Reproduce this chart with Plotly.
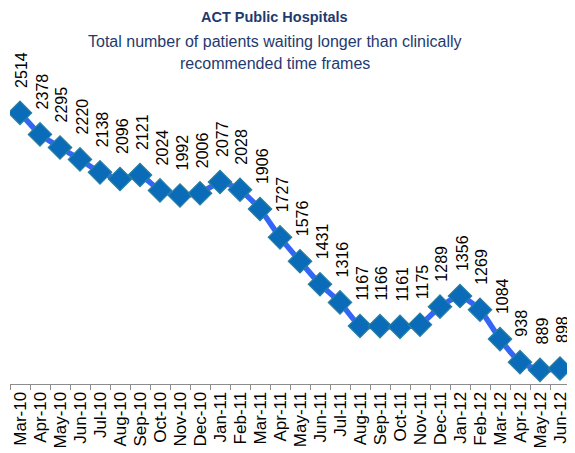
import plotly.graph_objects as go

months = ["Mar-10", "Apr-10", "May-10", "Jun-10", "Jul-10", "Aug-10", "Sep-10",
          "Oct-10", "Nov-10", "Dec-10", "Jan-11", "Feb-11", "Mar-11", "Apr-11",
          "May-11", "Jun-11", "Jul-11", "Aug-11", "Sep-11", "Oct-11", "Nov-11",
          "Dec-11", "Jan-12", "Feb-12", "Mar-12", "Apr-12", "May-12", "Jun-12"]
patients = [2514, 2378, 2295, 2220, 2138, 2096, 2121, 2024, 1992, 2006, 2077,
            2028, 1906, 1727, 1576, 1431, 1316, 1167, 1166, 1161, 1175, 1289,
            1356, 1269, 1084, 938, 889, 898]

title_text = "ACT Public Hospitals"
subtitle_lines = ["Total number of patients waiting longer than clinically",
                  "recommended time frames"]

FONT = "Liberation Sans, Arial, sans-serif"
NAVY = "#1F3A6E"

fig = go.Figure()
fig.add_trace(go.Scatter(
    x=months, y=patients, mode="lines+markers",
    line=dict(color="#3366F5", width=5.5, shape="spline", smoothing=0.5),
    marker=dict(symbol="diamond", size=18, color="#0A6CB8",
                line=dict(color="#2A7F9E", width=1.2)),
    hoverinfo="x+y", showlegend=False,
))

annotations = []
for m, v in zip(months, patients):
    annotations.append(dict(
        x=m, y=v, xref="x", yref="y", text=str(v), showarrow=False,
        textangle=-90, xanchor="center", yanchor="bottom",
        xshift=2, yshift=23,
        font=dict(family=FONT, size=16, color="#000000"),
    ))

annotations.append(dict(
    x=0.473, y=1.0546, xref="paper", yref="paper", showarrow=False,
    text="<b>" + title_text + "</b>", xanchor="center", yanchor="middle",
    font=dict(family=FONT, size=14.5, color=NAVY),
))
for i, line in enumerate(subtitle_lines):
    annotations.append(dict(
        x=0.473, y=[0.9856, 0.922][i], xref="paper", yref="paper",
        showarrow=False, text=line, xanchor="center", yanchor="middle",
        font=dict(family=FONT, size=16, color=NAVY),
    ))

# The page body has an 8px margin, so the figure is sized and margined to
# keep the plot area at the same on-screen position as the reference.
fig.update_layout(
    width=567, height=445,
    margin=dict(l=2, r=5, t=28, b=69, autoexpand=False),
    paper_bgcolor="white", plot_bgcolor="white",
    font=dict(family=FONT, color="#000000"),
    annotations=annotations,
    xaxis=dict(
        type="category", tickangle=-90, showgrid=False, zeroline=False,
        showline=True, linecolor="#8C8C8C", linewidth=1,
        ticks="outside", tickson="boundaries", ticklen=5, tickcolor="#8C8C8C",
        tickfont=dict(family=FONT, size=17, color="#000000"),
        range=[-0.5, len(months) - 0.5],
    ),
    yaxis=dict(
        range=[800, 3000], visible=False, showgrid=False, zeroline=False,
    ),
)

fig.write_html("out.html")
